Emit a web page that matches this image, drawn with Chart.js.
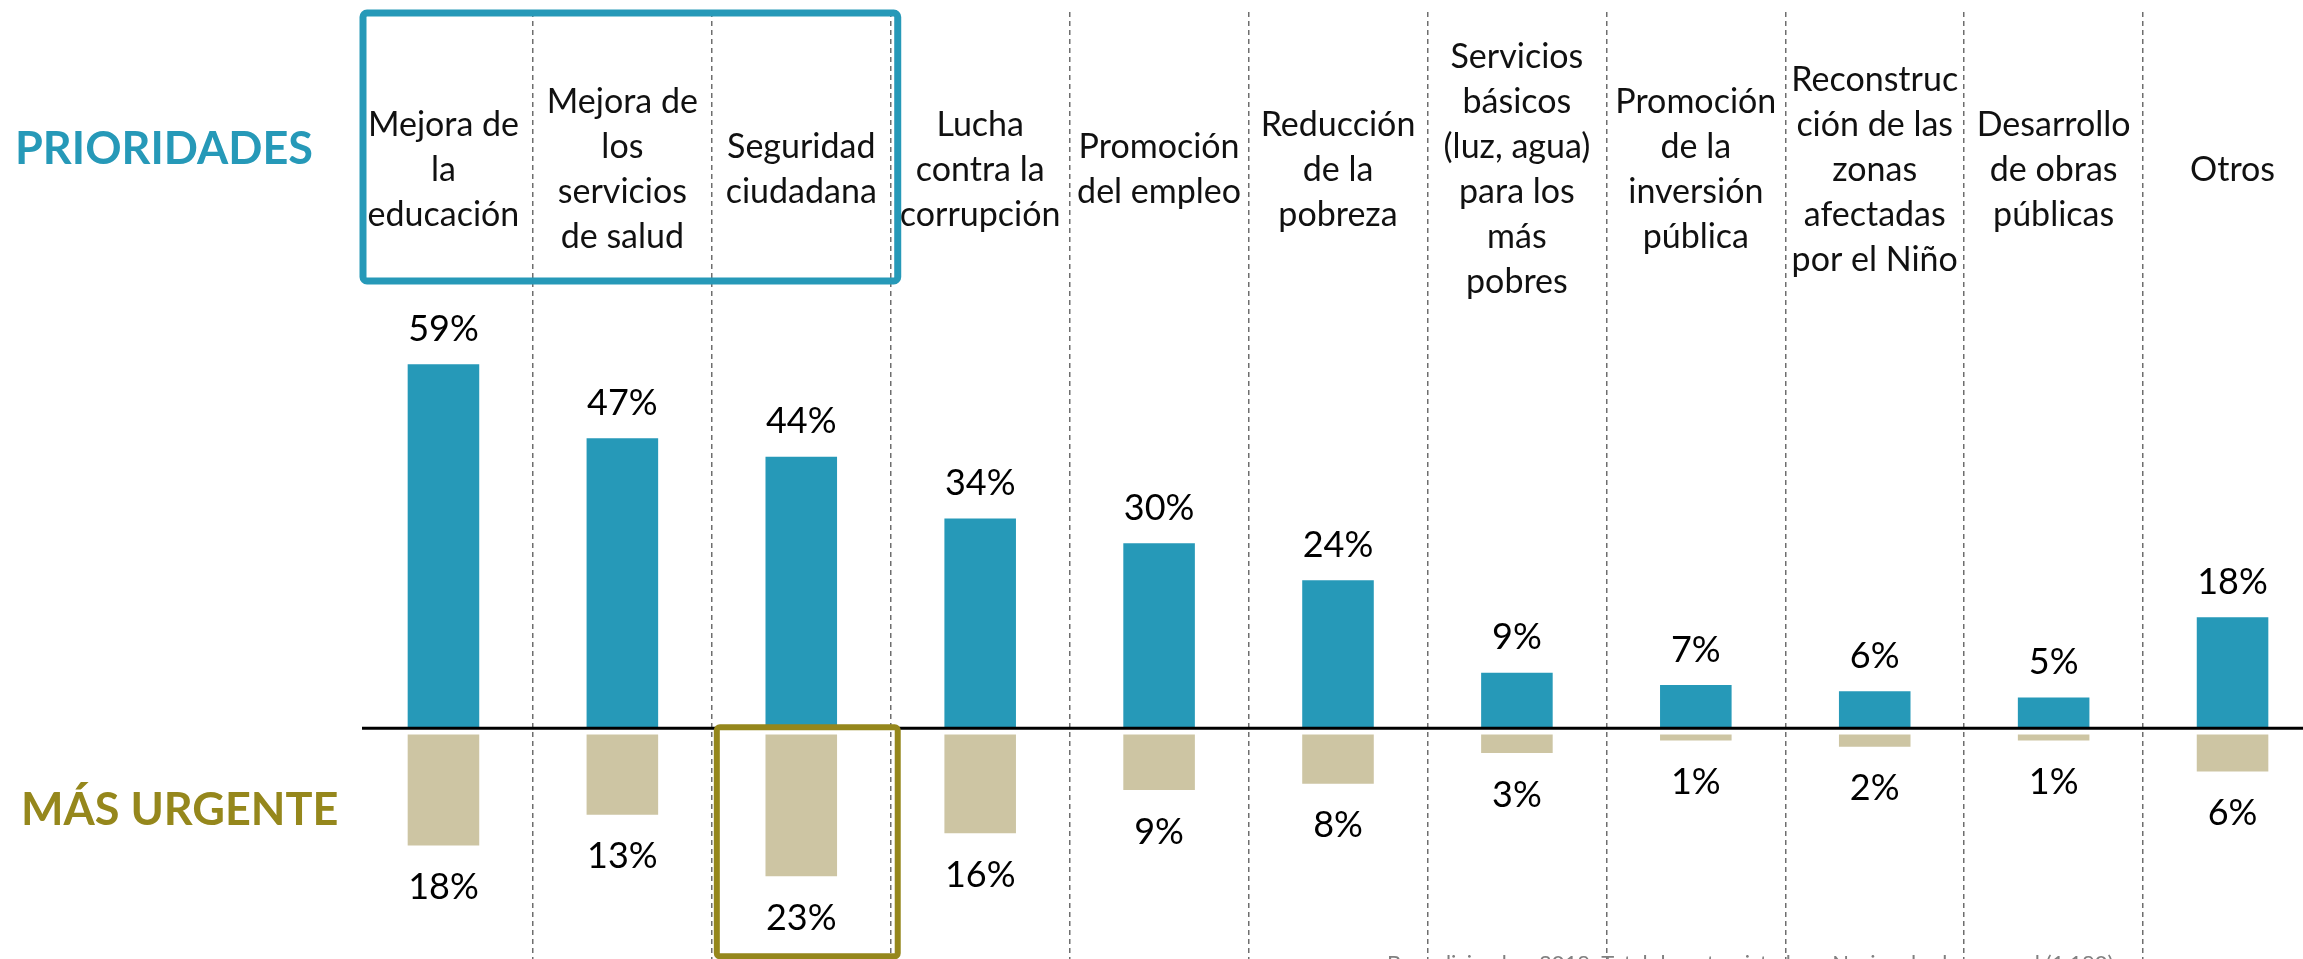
<!DOCTYPE html>
<html lang="es">
<head>
<meta charset="utf-8">
<title>Prioridades y más urgente</title>
<script src="https://cdn.jsdelivr.net/npm/chart.js@4.4.1/dist/chart.umd.min.js"></script>
<style>
    html, body { margin: 0; padding: 0; background: #fff; overflow: hidden; }
    #wrap { position: relative; width: 2322px; height: 959px; }
</style>
</head>
<body>
<div id="wrap"><canvas id="chart"></canvas></div>
<script>
// Categorías (con saltos de línea como en la lámina)
const categorias = [
    ['Mejora de', 'la', 'educación'],
    ['Mejora de', 'los', 'servicios', 'de salud'],
    ['Seguridad', 'ciudadana'],
    ['Lucha', 'contra la', 'corrupción'],
    ['Promoción', 'del empleo'],
    ['Reducción', 'de la', 'pobreza'],
    ['Servicios', 'básicos', '(luz, agua)', 'para los', 'más', 'pobres'],
    ['Promoción', 'de la', 'inversión', 'pública'],
    ['Reconstruc', 'ción de las', 'zonas', 'afectadas', 'por el Niño'],
    ['Desarrollo', 'de obras', 'públicas'],
    ['Otros']
];

// Porcentajes
const prioridades = [59, 47, 44, 34, 30, 24, 9, 7, 6, 5, 18];
const masUrgente = [18, 13, 23, 16, 9, 8, 3, 1, 2, 1, 6];

const titulos = ['PRIORIDADES', 'MÁS URGENTE'];
const nota = 'Base diciembre 2018: Total de entrevistados - Nacional urbano rural (1,180)';

const AZUL = '#2699B8';
const BEIGE = '#CDC5A3';
const OLIVA = '#95871C';
const FONT = 'Lato, "Open Sans", sans-serif';

// Escala vertical: 0 queda sobre la línea negra, barras negativas un poco más abajo
const Y_MIN = -37.4;
const Y_MAX = 116.1;
const GAP = 1; // separación entre la línea y las barras beige (en %)

// Textos, recuadros y línea base
const overlay = {
    id: 'overlay',
    afterDatasetsDraw(chart) {
        const { ctx, chartArea, scales } = chart;
        const x = scales.x, y = scales.y;
        const colW = x.getPixelForValue(1) - x.getPixelForValue(0);
        const bound = i => x.getPixelForValue(i) - colW / 2;
        const y0 = y.getPixelForValue(0);

        ctx.save();

        // línea base
        ctx.strokeStyle = '#000';
        ctx.lineWidth = 3;
        ctx.beginPath();
        ctx.moveTo(chartArea.left + 8, y0);
        ctx.lineTo(chartArea.right, y0);
        ctx.stroke();

        // etiquetas de valores
        ctx.fillStyle = '#000';
        ctx.textAlign = 'center';
        ctx.textBaseline = 'middle';
        ctx.font = `36px ${FONT}`;
        chart.getDatasetMeta(0).data.forEach((bar, i) => {
            ctx.fillText(prioridades[i] + '%', bar.x, bar.y - 35);
        });
        chart.getDatasetMeta(1).data.forEach((bar, i) => {
            ctx.fillText(masUrgente[i] + '%', bar.x, bar.y + 42);
        });

        // cabeceras de columna
        ctx.font = `34px ${FONT}`;
        ctx.fillStyle = '#111';
        const centroCab = chartArea.top + 158;
        const lh = 45;
        categorias.forEach((lineas, i) => {
            const cx = x.getPixelForValue(i);
            const y1 = centroCab - (lineas.length - 1) * lh / 2;
            lineas.forEach((t, k) => ctx.fillText(t, cx, y1 + k * lh));
        });

        // recuadro azul (las tres primeras)
        ctx.strokeStyle = AZUL;
        ctx.lineWidth = 7;
        ctx.beginPath();
        ctx.roundRect(bound(0) + 9, chartArea.top + 1, bound(3) - bound(0) - 2, 268, 4);
        ctx.stroke();

        // recuadro oliva (seguridad ciudadana)
        ctx.strokeStyle = OLIVA;
        ctx.lineWidth = 6;
        ctx.beginPath();
        ctx.roundRect(bound(2) + 5, y0 - 1, bound(3) - bound(2) + 2, 229, 3);
        ctx.stroke();

        // títulos laterales
        ctx.textAlign = 'left';
        ctx.font = `bold 45px ${FONT}`;
        ctx.fillStyle = AZUL;
        ctx.fillText(titulos[0], 15, 149);
        ctx.fillStyle = OLIVA;
        ctx.fillText(titulos[1], 21, 810);

        // nota al pie (cortada por el borde inferior)
        ctx.textBaseline = 'alphabetic';
        ctx.font = `22px ${FONT}`;
        ctx.fillStyle = '#808080';
        ctx.fillText(nota, 1387, 971);

        ctx.restore();
    }
};

new Chart(document.getElementById('chart'), {
    type: 'bar',
    data: {
        labels: categorias.map(c => c.join(' ')),
        datasets: [
            {
                label: 'Prioridades',
                data: prioridades,
                backgroundColor: AZUL,
                yAxisID: 'y'
            },
            {
                label: 'Más urgente',
                data: masUrgente.map(v => -v),
                backgroundColor: BEIGE,
                yAxisID: 'y2'
            }
        ]
    },
    options: {
        responsive: true,
        maintainAspectRatio: false,
        animation: false,
        devicePixelRatio: 1,
        layout: { padding: { left: 354, right: 0, top: 12, bottom: 0 } },
        datasets: {
            bar: { barPercentage: 0.4, categoryPercentage: 1 }
        },
        plugins: {
            legend: { display: false },
            tooltip: { enabled: false }
        },
        scales: {
            x: {
                stacked: true,
                ticks: { display: false },
                border: { display: false, dash: [5, 4] },
                grid: {
                    offset: true,
                    drawTicks: false,
                    lineWidth: 1.5,
                    color: ctx => ctx.index === 0 ? 'rgba(0,0,0,0)' : '#6e6e6e'
                }
            },
            y: {
                display: false,
                min: Y_MIN,
                max: Y_MAX
            },
            y2: {
                display: false,
                min: Y_MIN + GAP,
                max: Y_MAX + GAP
            }
        }
    },
    plugins: [overlay]
});
</script>
</body>
</html>
